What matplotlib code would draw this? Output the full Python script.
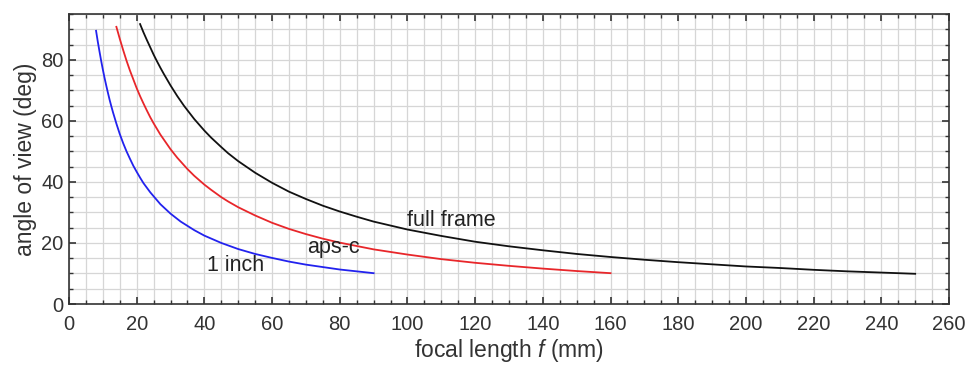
import matplotlib
matplotlib.use("Agg")
import matplotlib.pyplot as plt
from matplotlib.ticker import MultipleLocator

# focal length (mm) and angle of view (deg)
f_full = [21, 22, 23, 24, 25, 26, 27, 28, 30, 32, 34, 37, 40, 42, 45, 47, 50,
          55, 60, 65, 70, 75, 80, 85, 90, 95, 100, 110, 120, 130, 140, 150,
          160, 170, 180, 190, 200, 210, 220, 230, 240, 250]
aov_full = [91.7, 89.0, 86.5, 84.1, 81.7, 79.5, 77.4, 75.4, 71.6, 68.1, 64.9,
            60.6, 56.8, 54.5, 51.4, 49.4, 46.8, 43.0, 39.7, 36.8, 34.4, 32.2,
            30.3, 28.6, 27.0, 25.7, 24.4, 22.3, 20.4, 18.9, 17.6, 16.4, 15.4,
            14.5, 13.7, 13.0, 12.3, 11.8, 11.2, 10.7, 10.3, 9.9]

f_apsc = [14, 15, 16, 17, 18, 19, 20, 21, 22, 23, 24, 25, 27, 30, 32, 35, 37,
          40, 42, 45, 47, 50, 55, 60, 65, 70, 75, 80, 85, 90, 100, 110, 120,
          130, 140, 150, 160]
aov_apsc = [90.8, 86.9, 83.2, 79.7, 76.5, 73.6, 70.7, 68.1, 65.7, 63.4, 61.2,
            59.2, 55.5, 50.7, 47.9, 44.2, 42.0, 39.1, 37.4, 35.0, 33.6, 31.7,
            29.0, 26.6, 24.6, 22.9, 21.4, 20.1, 19.0, 17.9, 16.2, 14.7, 13.5,
            12.5, 11.6, 10.8, 10.1]

f_inch = [8, 8.5, 9, 9.5, 10, 10.5, 11, 11.5, 12, 12.5, 13, 14, 15, 16, 17,
          18, 19, 20, 21, 22, 24, 27, 30, 33, 37, 40, 45, 50, 55, 60, 65, 70,
          75, 80, 85, 90]
aov_inch = [89.5, 86.0, 82.8, 79.7, 76.8, 74.1, 71.6, 69.2, 66.9, 64.8, 62.8,
            59.1, 55.7, 52.7, 50.0, 47.6, 45.3, 43.3, 41.4, 39.6, 36.6, 32.7,
            29.6, 27.0, 24.2, 22.4, 20.0, 18.0, 16.4, 15.1, 13.9, 12.9, 12.1,
            11.3, 10.7, 10.1]

plt.rcParams['font.family'] = ['Liberation Sans', 'DejaVu Sans']
plt.rcParams['mathtext.fontset'] = 'custom'
plt.rcParams['mathtext.it'] = 'Liberation Sans:italic'
plt.rcParams['mathtext.rm'] = 'Liberation Sans'

fig = plt.figure(figsize=(9.69, 3.65), dpi=100)
ax = fig.add_axes([0.0712, 0.1671, 0.9082, 0.7945])

ax.plot(f_inch, aov_inch, color='#2222ee', lw=1.3)
ax.plot(f_apsc, aov_apsc, color='#e8262a', lw=1.3)
ax.plot(f_full, aov_full, color='#111111', lw=1.3)

ax.text(100, 27.5, 'full frame', fontsize=15.5, va='center', color='#222222')
ax.text(70.3, 18.4, 'aps-c', fontsize=15.5, va='center', color='#222222')
ax.text(40.8, 12.5, '1 inch', fontsize=15.5, va='center', color='#222222')

ax.set_xlim(0, 260)
ax.set_ylim(0, 95)
ax.xaxis.set_major_locator(MultipleLocator(20))
ax.xaxis.set_minor_locator(MultipleLocator(5))
ax.yaxis.set_major_locator(MultipleLocator(20))
ax.yaxis.set_minor_locator(MultipleLocator(5))

ax.grid(True, which='both', color='#d6d6d6', lw=0.9)
ax.set_axisbelow(True)
ax.tick_params(which='both', direction='in', top=True, right=True,
               colors='#333333', labelsize=14.5, labelcolor='#333333', pad=4)
ax.tick_params(axis='x', which='both', pad=8)
ax.tick_params(which='major', length=5, width=1.2)
ax.tick_params(which='minor', length=3, width=1.0)
for s in ax.spines.values():
    s.set_color('#333333')
    s.set_linewidth(1.2)

ax.set_xlabel('focal length $\\it{f}$ (mm)', fontsize=16.5, color='#333333',
              labelpad=2)
ax.set_ylabel('angle of view (deg)', fontsize=16.5, color='#333333', labelpad=3)

fig.savefig('out.png', dpi=100)
